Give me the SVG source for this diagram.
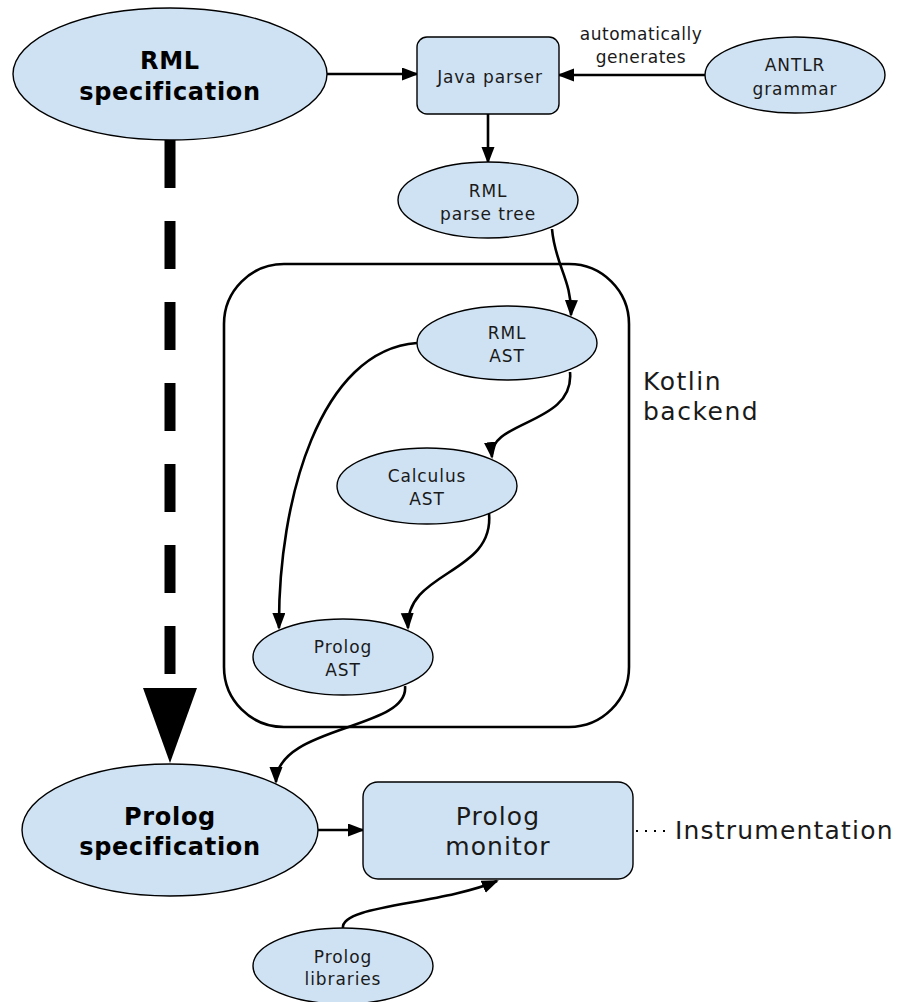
<svg xmlns="http://www.w3.org/2000/svg" width="899" height="1002" viewBox="0 0 899 1002">
<defs>
<style>
.node{fill:#cfe2f3;stroke:#000;stroke-width:1.4}
.t{font-family:"DejaVu Sans",sans-serif;font-size:17px;letter-spacing:0.9px;fill:#1a1a1a;text-anchor:middle}
.b{font-family:"DejaVu Sans",sans-serif;font-size:24px;font-weight:bold;letter-spacing:0.7px;fill:#000;text-anchor:middle}
.l{font-family:"DejaVu Sans",sans-serif;font-size:25px;letter-spacing:1.1px;fill:#1a1a1a}
.e{fill:none;stroke:#000;stroke-width:2.6;marker-end:url(#ah)}
</style>
<marker id="ah" markerUnits="userSpaceOnUse" markerWidth="18" markerHeight="14" refX="15" refY="6.5" orient="auto">
<path d="M0,0 L17,6.5 L0,13 z" fill="#000"/>
</marker>
</defs>
<rect width="899" height="1002" fill="#fff"/>

<g id="kotlin-backend">
<rect x="224" y="264" width="405" height="463" rx="60" ry="60" fill="none" stroke="#000" stroke-width="2.6"/>
<text class="l" x="643" y="390" style="letter-spacing:1.5px">Kotlin</text>
<text class="l" x="643" y="420" style="letter-spacing:1.5px">backend</text>
</g>

<g id="connectors">
<path class="e" d="M327,74 L417,74"/>
<path class="e" d="M705,75 L559,75"/>
<path class="e" d="M488,114 L488,162"/>
<path class="e" d="M552,229 C555,265 572,280 571,315"/>
<path class="e" d="M570,372 C575,425 488,420 492,457"/>
<path class="e" d="M417,343 C320,350 278,500 279,628"/>
<path class="e" d="M489,513 C495,575 405,570 408,628"/>
<path class="e" d="M405,686 C410,730 276,725 276,782"/>
<path class="e" d="M318,830 L363,830"/>
<path class="e" d="M343,928 C340,905 440,905 497,881"/>
<line x1="170" y1="140" x2="170" y2="676" stroke="#000" stroke-width="11" stroke-dasharray="48 33"/>
<polygon points="143,688 197,688 170,763" fill="#000"/>
<line x1="636" y1="831" x2="672" y2="831" stroke="#000" stroke-width="2" stroke-dasharray="2 7"/>
</g>

<g id="rml-spec">
<ellipse class="node" cx="170" cy="74" rx="157" ry="66"/>
<text class="b" x="170" y="69">RML</text>
<text class="b" x="170" y="100">specification</text>
</g>

<g id="java-parser">
<rect class="node" x="417" y="37" width="142" height="77" rx="10" ry="10"/>
<text class="t" x="490" y="83">Java parser</text>
</g>

<g id="edge-label">
<text class="t" x="641" y="40" style="letter-spacing:0.5px">automatically</text>
<text class="t" x="641" y="63" style="letter-spacing:0.5px">generates</text>
</g>

<g id="antlr-grammar">
<ellipse class="node" cx="795" cy="75" rx="90" ry="38"/>
<text class="t" x="795" y="71">ANTLR</text>
<text class="t" x="795" y="95">grammar</text>
</g>

<g id="rml-parse-tree">
<ellipse class="node" cx="488" cy="200" rx="90" ry="38"/>
<text class="t" x="488" y="197">RML</text>
<text class="t" x="488" y="220">parse tree</text>
</g>

<g id="rml-ast">
<ellipse class="node" cx="507" cy="343" rx="90" ry="37"/>
<text class="t" x="507" y="339">RML</text>
<text class="t" x="507" y="362">AST</text>
</g>

<g id="calculus-ast">
<ellipse class="node" cx="427" cy="486" rx="90" ry="38"/>
<text class="t" x="427" y="482">Calculus</text>
<text class="t" x="427" y="505">AST</text>
</g>

<g id="prolog-ast">
<ellipse class="node" cx="343" cy="657" rx="90" ry="38"/>
<text class="t" x="343" y="653">Prolog</text>
<text class="t" x="343" y="676">AST</text>
</g>

<g id="prolog-spec">
<ellipse class="node" cx="170" cy="830" rx="148" ry="66"/>
<text class="b" x="170" y="825">Prolog</text>
<text class="b" x="170" y="855">specification</text>
</g>

<g id="prolog-monitor">
<rect class="node" x="363" y="782" width="270" height="97" rx="15" ry="15"/>
<text class="l" x="498" y="825" text-anchor="middle">Prolog</text>
<text class="l" x="498" y="855" text-anchor="middle">monitor</text>
</g>

<g id="instrumentation">
<text class="l" x="675" y="839" style="letter-spacing:1.2px">Instrumentation</text>
</g>

<g id="prolog-libraries">
<ellipse class="node" cx="343" cy="966" rx="90" ry="38"/>
<text class="t" x="343" y="963">Prolog</text>
<text class="t" x="343" y="985">libraries</text>
</g>
</svg>
